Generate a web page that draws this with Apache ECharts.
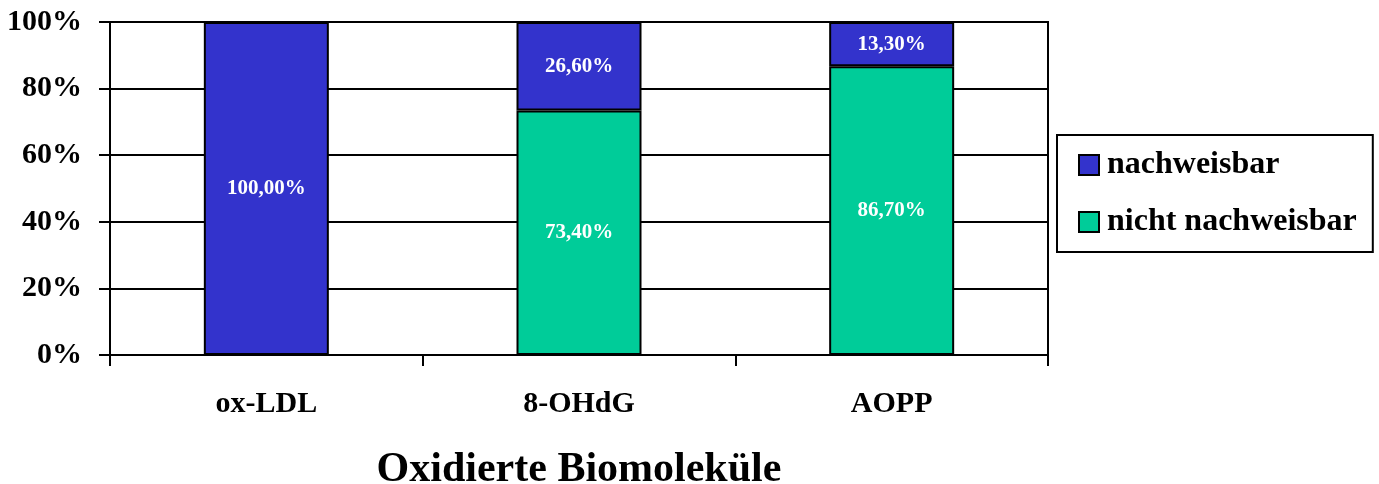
<!DOCTYPE html>
<html lang="de">
<head>
    <meta charset="UTF-8"/>
    <title>Oxidierte Biomoleküle</title>
    <script src="https://cdn.jsdelivr.net/npm/echarts@6/dist/echarts.min.js"></script>
    <style>
        html, body { margin: 0; padding: 0; background: #fff; }
    </style>
</head>
<body>
<div id="main" style="width:1379px;height:484px;"></div>
<script>
    // Daten aus dem Diagramm
    var kategorien = ['ox-LDL', '8-OHdG', 'AOPP'];
    var nachweisbar = [100.0, 26.6, 13.3];
    var nichtNachweisbar = [0.0, 73.4, 86.7];
    var yTicks = [0, 20, 40, 60, 80, 100];

    var schrift = '"Liberation Serif", "Times New Roman", serif';

    function pct(p) {
        if (p.value === 0) return '';
        return p.value.toFixed(2).replace('.', ',') + '%';
    }

    var myChart = echarts.init(document.getElementById('main'));
    var option = {
        animation: false,
        textStyle: { fontFamily: schrift },
        grid: {
            left: 110, right: 331, top: 22, bottom: 129,
            outerBoundsMode: 'none',
            show: true, borderColor: '#000', borderWidth: 2
        },
        legend: {
            orient: 'vertical',
            left: 1057, top: 135,
            padding: [14, 16, 14, 21],
            itemGap: 25,
            itemWidth: 20, itemHeight: 20,
            icon: 'rect',
            borderColor: '#000', borderWidth: 2,
            data: ['nachweisbar', 'nicht nachweisbar'],
            textStyle: { fontFamily: schrift, fontWeight: 'bold', fontSize: 32, color: '#000', lineHeight: 32, padding: [0, 0, 0, 3] }
        },
        xAxis: {
            type: 'category',
            data: kategorien,
            name: 'Oxidierte Biomoleküle',
            nameLocation: 'middle',
            nameGap: 94,
            nameTextStyle: { fontFamily: schrift, fontWeight: 'bold', fontSize: 42, color: '#000' },
            axisLine: { lineStyle: { color: '#000', width: 2 } },
            axisTick: { show: true, length: 11, lineStyle: { color: '#000', width: 2 } },
            axisLabel: { margin: 34, fontFamily: schrift, fontWeight: 'bold', fontSize: 30, color: '#000' }
        },
        yAxis: {
            type: 'value',
            min: yTicks[0], max: yTicks[yTicks.length - 1], interval: 20,
            axisLine: { show: true, lineStyle: { color: '#000', width: 2 } },
            axisTick: { show: true, length: 11, lineStyle: { color: '#000', width: 2 } },
            axisLabel: { formatter: '{value}%', margin: 28, fontFamily: schrift, fontWeight: 'bold', fontSize: 30, color: '#000' },
            splitLine: { lineStyle: { color: '#000', width: 2 } }
        },
        series: [
            {
                name: 'nicht nachweisbar',
                type: 'bar',
                stack: 'gesamt',
                barWidth: 125,
                data: nichtNachweisbar,
                itemStyle: { color: '#00CC99', borderColor: '#000', borderWidth: 2 },
                label: { show: true, position: 'inside', formatter: pct, color: '#fff', fontFamily: schrift, fontWeight: 'bold', fontSize: 21 }
            },
            {
                name: 'nachweisbar',
                type: 'bar',
                stack: 'gesamt',
                barWidth: 125,
                data: nachweisbar,
                itemStyle: { color: '#3333CC', borderColor: '#000', borderWidth: 2 },
                label: { show: true, position: 'inside', formatter: pct, color: '#fff', fontFamily: schrift, fontWeight: 'bold', fontSize: 21 }
            }
        ]
    };
    myChart.setOption(option);
</script>
</body>
</html>
